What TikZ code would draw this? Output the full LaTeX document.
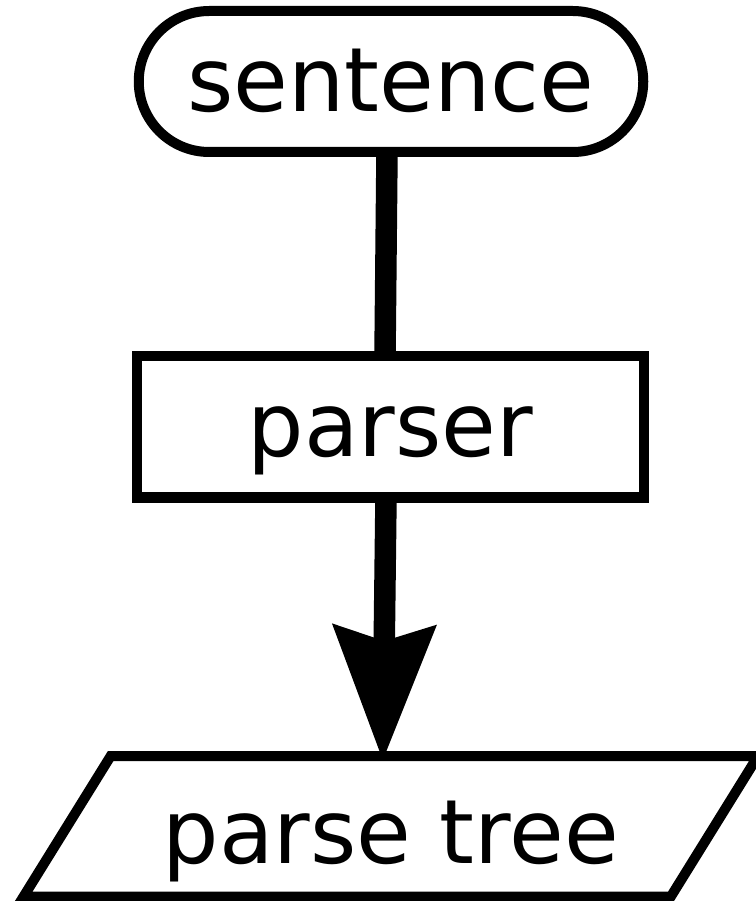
\documentclass[tikz,border=0pt]{standalone}
\usepackage{fontspec}
\setmainfont{DejaVu Sans}
\usetikzlibrary{shapes.misc,arrows.meta}
\tikzset{
  box/.style={draw=black, inner sep=0pt, outer sep=0pt,
    font=\fontsize{89}{100}\selectfont, text height=70pt, text depth=10pt},
  flow/.style={line width=21.5pt, draw=black},
  slantbox/.style={line width=10pt, draw=black},
}
\begin{document}
\begin{tikzpicture}[x=1pt, y=-1pt]
\useasboundingbox (0,0) rectangle (755,901);
\node[box, rounded rectangle, line width=10pt, minimum width=504.5pt, minimum height=141pt]
  (sentence) at (391,81.5) {sentence};
\node[box, rectangle, line width=10.5pt, minimum width=507pt, minimum height=141.5pt]
  (parser) at (390.5,426.75) {parser};
\node[box, draw=none, rectangle, minimum width=647.3pt, minimum height=140.5pt,
  text height=84pt]
  (tree) at (390.8,826.25) {parse tree};
\draw[slantbox] ([xshift=43.55pt]tree.north west) -- ([xshift=43.55pt]tree.north east)
  -- ([xshift=-43.55pt]tree.south east) -- ([xshift=-43.55pt]tree.south west) -- cycle;
\draw[flow] ([xshift=-4pt]sentence.south) -- ([xshift=-5.5pt]parser.north);
\draw[flow, -{Stealth[length=136pt, width=105pt, inset=17pt, line width=0pt]}]
  ([xshift=-4.5pt]parser.south) -- ([xshift=-8pt, yshift=-4pt]tree.north);
\end{tikzpicture}
\end{document}
